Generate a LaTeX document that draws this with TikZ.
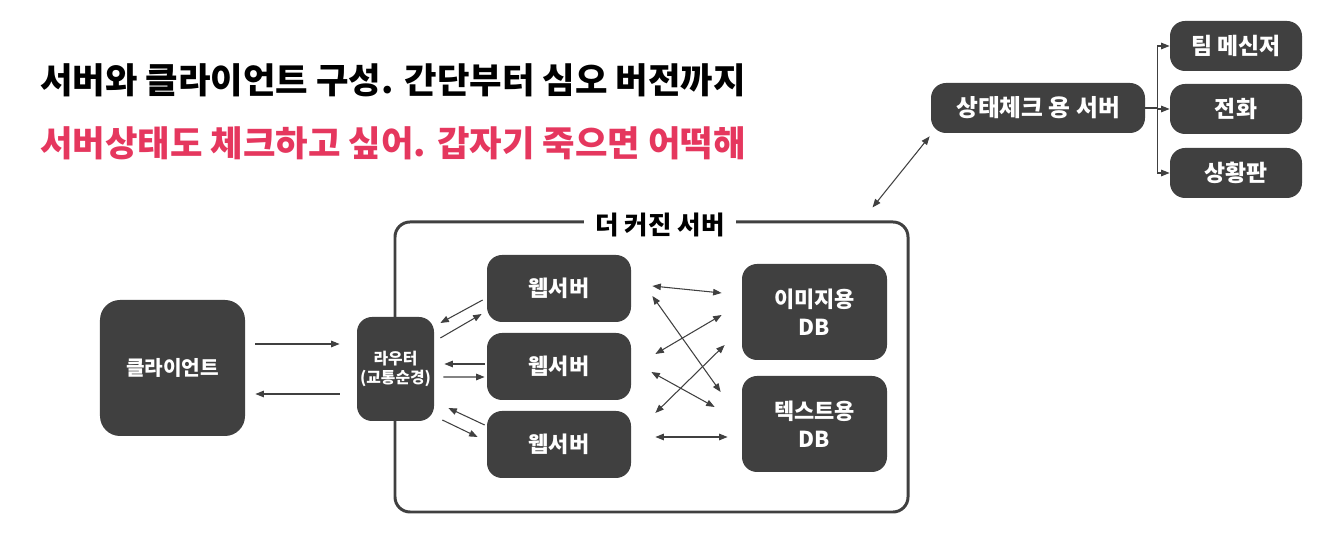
\documentclass[tikz,border=0pt]{standalone}
\usepackage{fontspec}
\setmainfont{Noto Sans CJK KR}
\usetikzlibrary{arrows.meta,positioning,calc}
\definecolor{boxgray}{HTML}{404040}
\definecolor{alertred}{HTML}{E5375E}

\tikzset{
  darkbox/.style={fill=boxgray,draw=none,rounded corners=3mm,text=white,align=center,inner sep=0pt,
    font=\bfseries\fontsize{12.5}{16}\selectfont},
  arr/.style={-{Triangle[length=1.7mm,width=1.3mm]},boxgray,line width=0.6pt},
  darr/.style={{Triangle[length=1.7mm,width=1.3mm]}-{Triangle[length=1.7mm,width=1.3mm]},boxgray,line width=0.6pt},
}

\begin{document}
\begin{tikzpicture}[x=0.2mm,y=-0.2mm]
  \useasboundingbox (0,0) rectangle (1332,554);
  % titles
  \node[anchor=west,inner sep=0pt,font=\bfseries\fontsize{20.1}{23}\selectfont] (title) at (40,80)
    {서버와 클라이언트 구성. 간단부터 심오 버전까지};
  \node[anchor=west,inner sep=0pt,text=alertred,font=\bfseries\fontsize{20.1}{23}\selectfont] (subtitle) at (40,143)
    {서버상태도 체크하고 싶어. 갑자기 죽으면 어떡해};
  % bigger server frame
  \node[draw=boxgray,line width=1.7pt,rounded corners=3mm,minimum width=102.6mm,minimum height=58mm] (big) at (651.5,367) {};
  \node[fill=white,inner xsep=2.4mm,font=\bfseries\fontsize{14.5}{17}\selectfont] (bigtitle) at (660,225) {더 커진 서버};
  % boxes
  \node[darkbox,rounded corners=4mm,minimum width=29mm,minimum height=27.2mm,font=\bfseries\fontsize{11.5}{14}\selectfont] (client) at (172.5,368) {클라이언트};
  \node[darkbox,minimum width=15.4mm,minimum height=20.8mm,font=\bfseries\fontsize{9}{10.5}\selectfont] (router) at (395.5,369)
    {라우터\\(교통순경)};
  \foreach \i/\y in {1/288.5,2/366.5,3/444.5}
    \node[darkbox,minimum width=28.8mm,minimum height=13.4mm] (web\i) at (559,\y) {웹서버};
  \node[darkbox,minimum width=29mm,minimum height=19.2mm] (imgdb) at (814.5,312) {이미지용\\DB};
  \node[darkbox,minimum width=29mm,minimum height=19.2mm] (txtdb) at (814.5,424) {텍스트용\\DB};
  \node[darkbox,minimum width=42.8mm,minimum height=10mm,font=\bfseries\fontsize{13.5}{16}\selectfont] (health) at (1038,108) {상태체크 용 서버};
  \foreach \n/\y/\t in {team/46/팀 메신저, phone/109/전화, board/173/상황판}
    \node[darkbox,minimum width=26.4mm,minimum height=10mm,font=\bfseries\fontsize{13}{16}\selectfont] (\n) at (1236,\y) {\t};
  % client <-> router
  \draw[arr] ($(client.east)+(10,-24)$) -- ($(router.west)+(-17,-25)$);
  \draw[arr] ($(router.west)+(-17,25)$) -- ($(client.east)+(10,26)$);
  % router <-> web servers
  \draw[arr] ($(router.east)+(6,-31)$) -- ($(web1.west)+(-5,25.5)$);
  \draw[arr] ($(web1.west)+(-4,11.5)$) -- ($(router.east)+(6,-46)$);
  \draw[arr] ($(web2.west)+(-2,-2.5)$) -- ($(router.east)+(10,-5)$);
  \draw[arr] ($(router.east)+(9,8)$) -- ($(web2.west)+(-2,10.5)$);
  \draw[arr] ($(web3.west)+(-2,-19.5)$) -- ($(router.east)+(14,39)$);
  \draw[arr] ($(router.east)+(8,51)$) -- ($(web3.west)+(-9,-7.5)$);
  % web servers <-> db
  \foreach \a/\ax/\ay/\b/\bx/\by in {web1/21/-2.5/imgdb/-20/-19, web1/21/7.5/txtdb/-21/-32,
      web2/24/-12.5/imgdb/-20/3, web2/20/5.5/txtdb/-27/-17,
      web3/24/-31.5/imgdb/-17/33, web3/24/-7.5/txtdb/-14/13}
    \draw[darr] ($(\a.east)+(\ax,\ay)$) -- ($(\b.west)+(\bx,\by)$);
  % health check
  \draw[darr] ($(big.north east)+(-37,-13)$) -- ($(health.south west)+(-1,3)$);
  \coordinate (fork) at ($(health.east)+(12,0)$);
  \draw[boxgray,line width=0.6pt] (health.east) -- (fork);
  \foreach \n in {team,phone,board}
    \draw[arr] (fork) |- (\n.west);
\end{tikzpicture}
\end{document}
